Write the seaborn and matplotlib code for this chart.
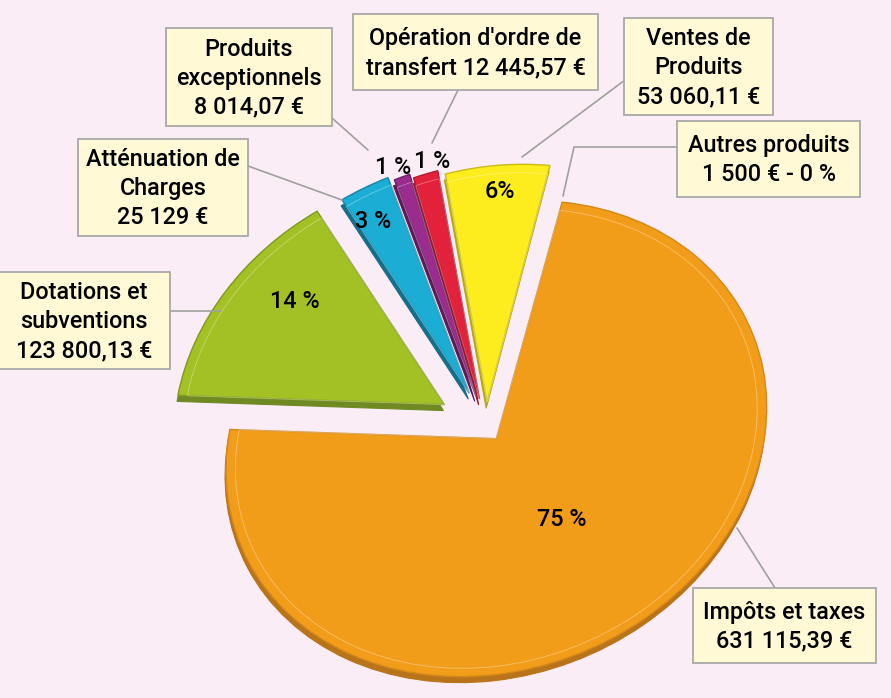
import numpy as np
import matplotlib
matplotlib.use("Agg")
import matplotlib.pyplot as plt
import seaborn as sns
from matplotlib.patches import Rectangle
from matplotlib.transforms import Affine2D

# ---------------- data ----------------
categories = ["Impôts et taxes", "Dotations et subventions", "Atténuation de Charges",
              "Produits exceptionnels", "Opération d'ordre de transfert",
              "Ventes de Produits", "Autres produits"]
values = [631115.39, 123800.13, 25129.00, 8014.07, 12445.57, 53060.11, 1500.00]
pct_labels = ["75 %", "14 %", "3 %", "1 %", "1 %", "6%", ""]
box_texts = [
    "Impôts et taxes\n631 115,39 €",
    "Dotations et\nsubventions\n123 800,13 €",
    "Atténuation de\nCharges\n25 129 €",
    "Produits\nexceptionnels\n8 014,07 €",
    "Opération d'ordre de\ntransfert 12 445,57 €",
    "Ventes de\nProduits\n53 060,11 €",
    "Autres produits\n1 500 € - 0 %",
]

# ---------------- style ----------------
colors = ["#F29D1A", "#A3C124", "#1CADD5", "#9A2C8E", "#E3213B", "#FDEC1E", "#F29D1A"]
dark = ["#B9741A", "#6F8A22", "#146F8C", "#5E1A57", "#9A1626", "#B5A814", "#B9741A"]
edge = ["#D4871A", "#7E9A1F", "#1785A6", "#6E1F66", "#B31A2E", "#C9BA16", "#D4871A"]
explode = [0.07, 0.19, 0.16, 0.14, 0.12, 0.10, 0.07]
BG = "#FBEDF5"
BOX_FC = "#FFF9D5"
BOX_EC = "#A9A9A9"

sns.set_theme(style="white")
plt.rcParams["font.family"] = ["Roboto", "DejaVu Sans"]

W, H = 891, 698
fig = plt.figure(figsize=(W / 100, H / 100), dpi=100)
fig.patch.set_facecolor(BG)

# pie axes (pixel-calibrated, tilted ellipse)
cx, cy = 486, 426
rx, ry = 268, 238
shear = 0.15          # horizontal lean of the tilted disc
start = 83.5
axp = fig.add_axes([0, 0, 1, 1])
skew = Affine2D(np.array([[1.0, shear * ry / rx, 0.0], [0.0, 1.0, 0.0], [0.0, 0.0, 1.0]]))
depth = 6 / ry

def draw_pie(cols, center, radius, zorder, **kw):
    ws, _ = axp.pie(values, explode=explode, colors=cols, startangle=start,
                    counterclock=False, center=center, radius=radius,
                    wedgeprops=dict(zorder=zorder, **kw))
    for w in ws:
        w.set_transform(skew + axp.transData)
    return ws

sh = draw_pie(dark, (0, -depth), 1.0, 1, linewidth=0.8)
for w, c in zip(sh, dark):
    w.set_edgecolor(c)
wedges = draw_pie(colors, (0, 0), 1.0, 2, linewidth=1.0)
for w, c in zip(wedges, edge):
    w.set_edgecolor(c)
hl = draw_pie(["none"] * len(values), (0, 0), 0.965, 3, linewidth=0.6,
              edgecolor=(1, 1, 1, 0.35), fill=False)
# the 0,2 % slice is not perceptible in the original rendering
for group in (sh, wedges, hl):
    group[-1].set_visible(False)

axp.set_aspect("auto")
axp.set_xlim(-cx / rx, (W - cx) / rx)
axp.set_ylim(-(H - cy) / ry, cy / ry)
axp.axis("off")

# overlay axes in pixel coordinates for callouts
ax = fig.add_axes([0, 0, 1, 1])
ax.set_xlim(0, W)
ax.set_ylim(H, 0)
ax.axis("off")
ax.patch.set_alpha(0)

boxes = [  # x0, y0, x1, y1 (px)
    (693, 588, 876, 663),
    (-2, 272, 170, 369),
    (78, 139, 248, 236),
    (166, 28, 332, 126),
    (353, 14, 598, 90),
    (624, 18, 773, 115),
    (677, 121, 860, 197),
]
leaders = [
    [(775, 588), (737, 528)],
    [(170, 311), (221, 311)],
    [(248, 166), (342, 200)],
    [(332, 118), (368, 150)],
    [(458, 90), (432, 143)],
    [(625, 80), (522, 157)],
    [(677, 147), (574, 147), (563, 196)],
]
pct_pos = [(562, 520), (295, 302), (373, 222), (393, 167), (432, 162), (500, 192), (0, 0)]

FS = 16.8
for (x0, y0, x1, y1), txt in zip(boxes, box_texts):
    ax.add_patch(Rectangle((x0, y0), x1 - x0, y1 - y0, facecolor=BOX_FC,
                           edgecolor=BOX_EC, linewidth=1.3, zorder=5))
    ax.text((x0 + x1) / 2, (y0 + y1) / 2 + 1, txt, ha="center", va="center",
            fontsize=FS, fontweight="medium", linespacing=1.33, color="#000000", zorder=6)

for pts in leaders:
    xs, ys = zip(*pts)
    ax.plot(xs, ys, color="#A0A0A0", linewidth=1.2, zorder=4)

for (x, y), t in zip(pct_pos, pct_labels):
    if t:
        ax.text(x, y, t, ha="center", va="center", fontsize=FS, fontweight="medium",
                color="#000000", zorder=6)

fig.savefig("out.png", dpi=100, facecolor=BG)
